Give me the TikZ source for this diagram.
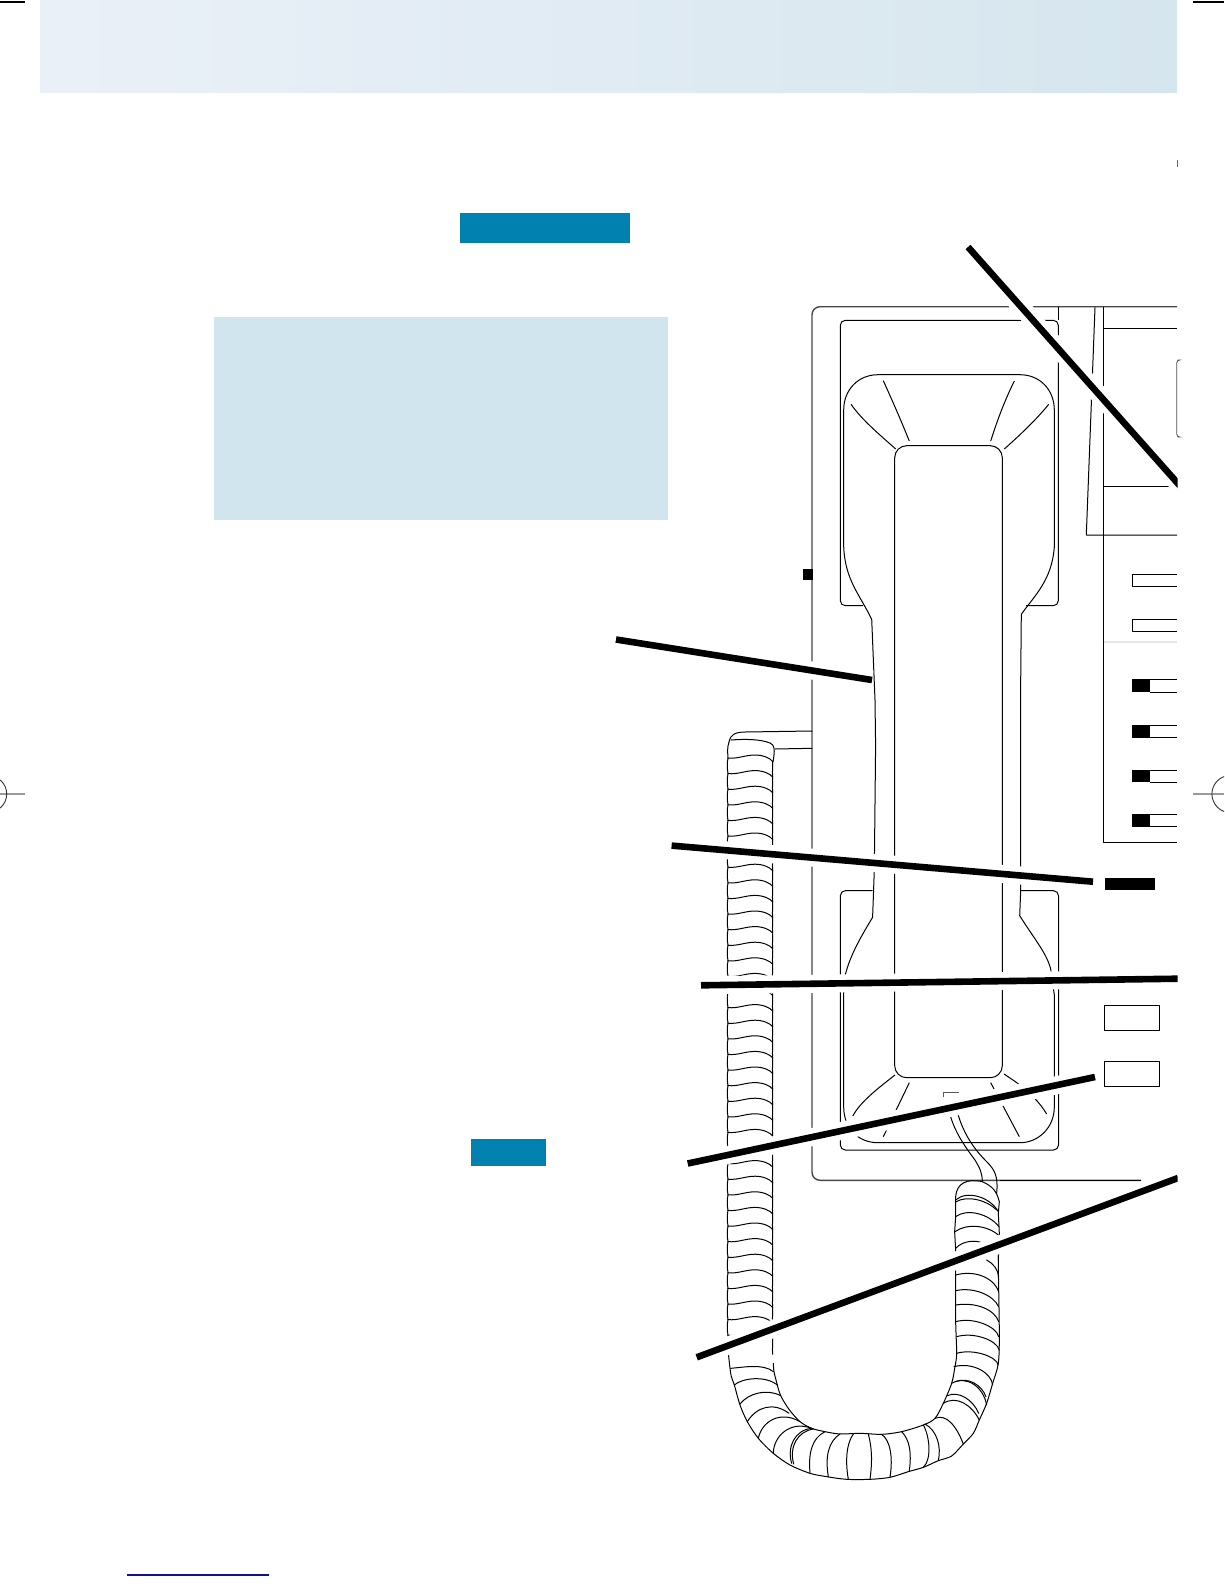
\documentclass[tikz,border=0pt]{standalone}
\usetikzlibrary{calc}
\definecolor{bandL}{HTML}{EAF0F8}
\definecolor{bandM}{HTML}{E1EDF3}
\definecolor{bandR}{HTML}{D6E6EE}
\definecolor{tealbox}{HTML}{0081B0}
\definecolor{palebox}{HTML}{D0E5ED}
\definecolor{navyline}{HTML}{0A1490}
\tikzset{
  thin line/.style={line width=1pt,black,line join=round},
  base line/.style={line width=1.4pt,black!72},
  halo/.style={line width=18pt,white},
  leader/.style={line width=6.6pt,black},
  crop/.style={line width=1.6pt,black!40},
  coil/.style={line width=1pt,black,line join=round,line cap=round},
}
\newcommand{\leaderline}[2]{%
  \draw[halo] #1 -- #2;
  \draw[leader] #1 -- #2;
}
\begin{document}
\begin{tikzpicture}[x=1pt,y=-1pt]
\useasboundingbox (0,0) rectangle (1224,1584);
\clip (0,0) rectangle (1224,1584);
\fill[white] (0,0) rectangle (1224,1584);

% header band
\shade[left color=bandL,middle color=bandM,right color=bandR,shading angle=90,draw=none]
  (40.6,0) rectangle (1177,93);
\draw[line width=0.7pt,black!60] (1177,160) -- (1177,167);

% crop and registration marks
\draw[line width=1.3pt,black] (0,2) -- (25,2);
\draw[line width=1.3pt,black] (1193,2) -- (1224,2);
\draw[crop] (0,794) -- (25,794);
\draw[crop] (1193,794) -- (1224,794);
\draw[line width=0.9pt,black!80] (-11.5,794) circle (18.2);
\draw[line width=0.9pt,black!80] (1230.5,794) circle (18.6);
\draw[line width=1.4pt,navyline] (127.3,1575) -- (269,1575);

% colour boxes
\fill[tealbox] (460,213) rectangle (630.2,242.8);
\fill[tealbox] (470.6,1139) rectangle (546.3,1166.4);
\fill[palebox] (214,317) rectangle (668,520);

% telephone base
\draw[base line,rounded corners=8pt] (1141,1180.3) -- (812,1180.3) -- (812,306.7) -- (1177,306.7);
\draw[thin line] (1000,1180.3) -- (1141,1180.3);
\fill[black] (803,569.3) rectangle (813,580);

% trays
\draw[thin line,rounded corners=5pt] (863,605.7) -- (840.3,605.7) -- (840.3,320.3) -- (1058.3,320.3) -- (1058.3,605.7) -- (1026,605.7);
\draw[thin line,rounded corners=5pt] (872.5,890.7) -- (840.3,890.7) -- (840.3,1150) -- (1058.5,1150) -- (1058.5,890.7) -- (1020.7,890.7);
\draw[thin line] (1058.3,306.7) -- (1058.3,320.3);

% handset
\draw[thin line] (871.7,619.3) .. controls (860,595) and (845,580) .. (843.7,546.7)
  -- (843.7,410) .. controls (843.7,390) and (858,374.7) .. (878,374.7)
  -- (1020,374.7) .. controls (1040,374.7) and (1054.3,390) .. (1054.3,410)
  -- (1054.3,546.7) .. controls (1052,580) and (1035,595) .. (1021.3,614.3)
  -- (1020.7,680) -- (1020.7,890) -- (1019.7,915.7)
  .. controls (1035,940) and (1048,955) .. (1051,970.7)
  -- (1054.3,995) -- (1054.3,1107) .. controls (1054.3,1128) and (1038,1142.7) .. (1020,1142.7)
  -- (878,1142.7) .. controls (858,1142.7) and (843.7,1128) .. (843.7,1107)
  -- (843.7,993) -- (845.3,975) .. controls (850,955) and (862,935) .. (872.6,917.3)
  -- (874.3,870) -- (875.6,746) -- (875,700) -- cycle;
\draw[thin line,rounded corners=12pt] (894.7,1077.7) rectangle (1002.3,445.7);
% fan lines, upper
\draw[thin line] (851,404.3) .. controls (862,420) and (880,435) .. (895.7,449);
\draw[thin line] (883.3,380.7) .. controls (892,400) and (900,418) .. (909.3,441);
\draw[thin line] (1014.3,381) .. controls (1005,400) and (998,418) .. (990.7,441);
\draw[thin line] (1048.7,404.3) .. controls (1036,420) and (1020,435) .. (1004.3,449);
% fan lines, lower
\draw[thin line] (895,1075) .. controls (873,1092) and (860,1103) .. (852.7,1116);
\draw[thin line] (909.3,1082.7) -- (883.3,1136.7);
\draw[thin line] (990.7,1082.7) -- (1019.3,1136.7);
\draw[thin line] (1004,1074) -- (1014,1080.7);
\draw[thin line] (1014,1080.7) .. controls (1030,1092) and (1040,1103) .. (1046.7,1114);
% small plug outline
\draw[line width=0.8pt,black!65] (943.7,1097) |- (959.3,1092.7);

% right-hand panel
\draw[thin line] (1103.7,306.7) -- (1103.7,842) -- (1177,842);
\draw[thin line] (1095,307.3) -- (1086.3,535) -- (1177,535);
\draw[line width=1.3pt,black] (1103.7,328.7) -- (1177,328.7);
\draw[thin line] (1103.7,486.3) -- (1177,486.3);
\draw[line width=0.8pt,black!70,rounded corners=3pt] (1177.5,360) -- (1176.7,360) -- (1176.7,437) -- (1177.5,437);
\draw[thin line] (1177,574.3) -| (1132.3,586.3) -- (1177,586.3);
\draw[thin line] (1177,619.3) -| (1132.3,631.3) -- (1177,631.3);
\draw[line width=2pt,black!10] (1103.7,641.7) -- (1177,641.7);
\foreach \a/\b in {679/692,725/737.7,770/782.3,814/826.7}{
  \fill[black] (1132,\a) rectangle (1150,\b);
  \draw[thin line] (1150,\a) -- (1177,\a);
  \draw[thin line] (1150,\b) -- (1177,\b);
}
\fill[black] (1105.2,878) rectangle (1155,890);
\draw[thin line] (1104.3,1005.3) rectangle (1159.3,1030.3);
\draw[thin line] (1104.3,1061.3) rectangle (1159.3,1086.3);

% left coil, straight run
\draw[coil] (812,731) -- (745,732) .. controls (735,732) and (730,735) .. (729,742) .. controls (727,748) and (727.7,752) .. (728,758);
\draw[coil] (812,748.3) -- (775,749);
\draw[coil] (731,740) .. controls (745,739) and (760,739) .. (770,743) .. controls (775,745) and (775,750) .. (773,762);
\foreach \i in {0,...,37}{
  \pgfmathsetmacro{\yy}{758+15.6*\i}
  \draw[coil] (728,\yy) .. controls (738,\yy+1) and (745,\yy-3) .. (755,\yy-3)
     .. controls (763,\yy-3) and (770,\yy) .. (772.7,\yy+3.5)
     .. controls (773,\yy+8) and (772,\yy+13) .. (772.7,\yy+19);
  \draw[coil] (728,\yy) .. controls (727,\yy+5) and (727,\yy+10) .. (728,\yy+15.6);
}

% coil bend, traced on a 3x grid
\begin{scope}[shift={(690,1250)},x=0.3333pt,y=-0.3333pt]
\draw[coil] (122,355) .. controls (160,352) and (220,340) .. (250,365);
\draw[coil] plot[smooth] coordinates {(114,300) (120,355) (124,380) (133,405) (150,465) (172,515) (205,565) (250,610) (300,645) (360,670) (410,680) (470,688) (540,688) (600,682) (655,665) (700,652) (745,632) (785,618) (820,582) (850,550) (868,510) (890,460) (908,400) (925,340) (928,250) (925,50) (925,0)};
\draw[coil] plot[smooth] coordinates {(250,340) (252,365) (262,405) (272,437) (297,478) (330,515) (365,535) (405,545) (450,552) (510,550) (575,553) (635,545) (700,525) (735,505) (760,460) (785,400) (795,350) (800,310) (797,210) (797,60)};
\draw[coil] (133,405) .. controls (155,385) and (225,375) .. (262,405);
\draw[coil] (150,462) .. controls (175,430) and (230,415) .. (272,437);
\draw[coil] (172,515) .. controls (200,470) and (250,455) .. (297,490);
\draw[coil] (205,565) .. controls (215,515) and (270,480) .. (330,515);
\draw[coil] (250,610) .. controls (250,560) and (300,510) .. (365,535);
\draw[coil] (305,640) .. controls (290,590) and (315,540) .. (365,535);
\draw[coil] (311,642) .. controls (297,590) and (322,545) .. (370,537);
\draw[coil] (360,668) .. controls (355,610) and (365,565) .. (405,545);
\draw[coil] (415,680) .. controls (405,620) and (415,575) .. (450,552);
\draw[coil] (475,688) .. controls (465,630) and (470,580) .. (490,552);
\draw[coil] (540,688) .. controls (548,630) and (545,590) .. (535,552);
\draw[coil] (600,682) .. controls (610,620) and (600,570) .. (575,553);
\draw[coil] (658,662) .. controls (665,610) and (660,570) .. (635,545);
\draw[coil] (700,652) .. controls (725,630) and (720,560) .. (700,525);
\draw[coil] (745,632) .. controls (755,590) and (740,540) .. (705,522);
\draw[coil] (820,582) .. controls (800,530) and (770,490) .. (735,505);
\draw[coil] (760,460) .. controls (800,435) and (845,465) .. (868,510);
\draw[coil] (770,438) .. controls (805,420) and (850,450) .. (866,490);
\draw[coil] (785,400) .. controls (830,375) and (880,410) .. (890,465);
\draw[coil] (795,395) .. controls (835,380) and (875,405) .. (888,440);
\draw[coil] (792,350) .. controls (850,335) and (905,370) .. (908,405);
\draw[coil] (800,310) .. controls (850,295) and (920,320) .. (925,345);
\draw[coil] (800,260) .. controls (850,245) and (920,270) .. (928,300);
\draw[coil] (797,215) .. controls (850,200) and (920,230) .. (926,260);
\draw[coil] (797,165) .. controls (860,155) and (915,180) .. (926,215);
\draw[coil] (797,122) .. controls (850,110) and (910,135) .. (926,170);
\draw[coil] (797,75) .. controls (850,60) and (910,80) .. (926,125);
\draw[coil] (890,30) .. controls (910,40) and (925,60) .. (926,80);
\end{scope}

% right coil top and handset cord, traced on a 3x grid
\begin{scope}[shift={(780,1000)},x=0.3333pt,y=-0.3333pt]
\draw[coil] (505,320) .. controls (515,385) and (555,440) .. (585,480) .. controls (600,505) and (607,520) .. (607,545);
\draw[coil] (528,320) .. controls (545,395) and (580,445) .. (620,485) .. controls (645,510) and (655,530) .. (650,580);
\draw[coil] (527,590) .. controls (530,550) and (560,535) .. (607,545) .. controls (640,560) and (650,575) .. (658,605) -- (655,640) -- (658,700) -- (655,780);
\draw[coil] (527,590) -- (527,650) -- (524,695) -- (527,750) -- (525,780);
\draw[coil] (527,600) .. controls (560,570) and (630,590) .. (655,635);
\draw[coil] (527,606) .. controls (560,585) and (620,600) .. (650,630);
\draw[coil] (527,650) .. controls (560,625) and (625,640) .. (657,680);
\draw[coil] (525,695) .. controls (560,670) and (620,675) .. (655,705);
\draw[coil] (527,745) .. controls (550,720) and (590,720) .. (610,730);
\end{scope}

% leader lines
\begin{scope}
\clip (0,0) rectangle (1177.5,1584);
\leaderline{(968,247)}{(1185,491.5)}
\leaderline{(616,639.5)}{(872,680)}
\leaderline{(671.6,845.6)}{(1093,881.7)}
\leaderline{(701,985.3)}{(1178,978.7)}
\leaderline{(687.7,1163.5)}{(1095,1077)}
\leaderline{(696.7,1357.3)}{(1178,1178)}
\end{scope}
\end{tikzpicture}
\end{document}
